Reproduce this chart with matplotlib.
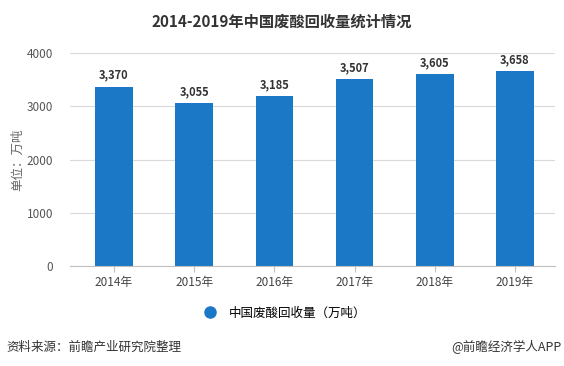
import matplotlib.pyplot as plt
from matplotlib.lines import Line2D

plt.rcParams['font.family'] = ['Noto Sans CJK SC', 'DejaVu Sans']

years = ['2014年', '2015年', '2016年', '2017年', '2018年', '2019年']
volume = [3370, 3055, 3185, 3507, 3605, 3658]
yticks = [0, 1000, 2000, 3000, 4000]

bar_color = '#1a78c6'

fig = plt.figure(figsize=(5.64, 3.66), dpi=100)
ax = fig.add_axes([0.124, 0.273, 0.86, 0.582])

bars = ax.bar(years, volume, width=0.47, color=bar_color, zorder=2)
for b, v in zip(bars, volume):
    ax.text(b.get_x() + b.get_width() / 2, v + 90, f'{v:,}',
            ha='center', va='bottom', fontsize=8, fontweight='bold', color='#333333')

ax.set_ylim(0, 4000)
ax.set_yticks(yticks)
ax.set_xlim(-0.55, 5.5)
ax.grid(axis='y', color='#d9d9d9', linewidth=0.8, zorder=0)
for s in ['top', 'right', 'left']:
    ax.spines[s].set_visible(False)
ax.spines['bottom'].set_color('#c0c0c0')
ax.tick_params(axis='y', length=0, labelsize=8.5, labelcolor='#555555', pad=12)
ax.tick_params(axis='x', length=4, color='#c0c0c0', labelsize=8.5, labelcolor='#444444')
ax.set_ylabel('单位：万吨', fontsize=9, color='#666666', labelpad=2)

fig.text(0.5, 0.94, '2014-2019年中国废酸回收量统计情况', ha='center', va='center',
         fontsize=11, fontweight='bold', color='#333333')

handle = Line2D([], [], marker='o', linestyle='none', markersize=8,
                markerfacecolor=bar_color, markeredgecolor=bar_color)
fig.legend([handle], ['中国废酸回收量（万吨）'], loc='center', bbox_to_anchor=(0.5, 0.145),
           frameon=False, fontsize=9, handletextpad=0.5)

fig.text(0.012, 0.052, '资料来源：前瞻产业研究院整理', ha='left', va='center',
         fontsize=9, color='#333333')
fig.text(0.995, 0.052, '@前瞻经济学人APP', ha='right', va='center',
         fontsize=9, color='#333333')

fig.savefig('out.png', dpi=100, facecolor='white')
